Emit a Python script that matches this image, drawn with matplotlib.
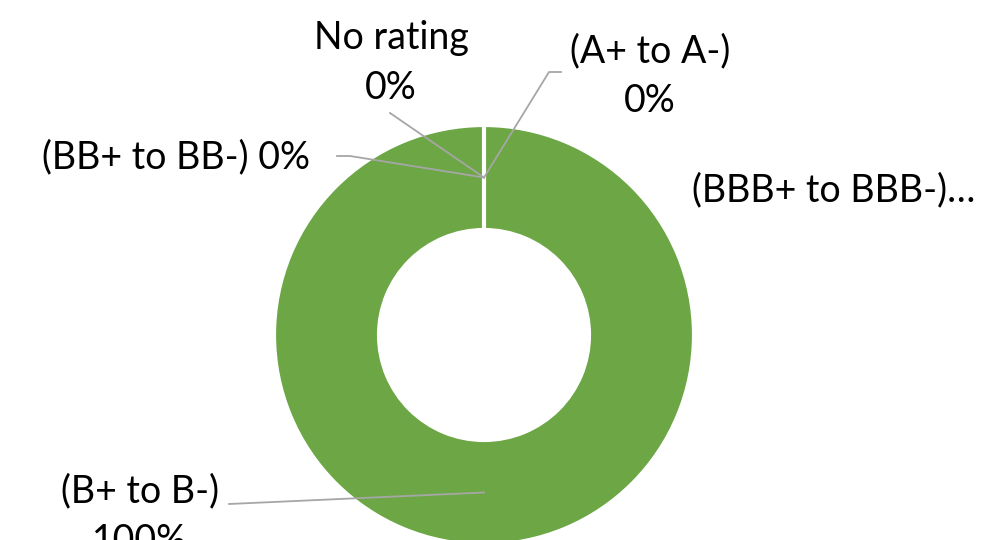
import numpy as np
import matplotlib.pyplot as plt

plt.rcParams['font.family'] = ['Lato', 'DejaVu Sans']

# data, clockwise from the top as in the source chart
categories = ["(A+ to A-)", "(BBB+ to BBB-)", "(BB+ to BB-)", "(B+ to B-)", "No rating"]
values = [0, 0, 0, 100, 0]
shown_labels = ["(A+ to A-)\n0%", "(BBB+ to BBB-)…", "(BB+ to BB-) 0%", "(B+ to B-)\n100%", "No rating\n0%"]

W, H = 998, 540
fig = plt.figure(figsize=(W / 100, H / 100), dpi=100)
ax = fig.add_axes([0, 0, 1, 1])

cx, cy, r = 484, H - 335, 210
ring = 0.5

wedges, _ = ax.pie(values, colors=["#6CA645"] * len(values), startangle=90, counterclock=False,
                   radius=r, center=(cx, cy),
                   wedgeprops=dict(width=r * ring, edgecolor="white", linewidth=3))
ax.set_xlim(0, W)
ax.set_ylim(0, H)
ax.set_aspect("equal")
ax.axis("off")


def anchor(w):
    # middle of the ring at the middle angle of the wedge
    ang = np.deg2rad((w.theta1 + w.theta2) / 2)
    rr = r * (1 - ring / 2)
    return cx + rr * np.cos(ang), cy + rr * np.sin(ang)


line_kw = dict(color="#A6A6A6", lw=1.3)
fs = 27

# label placements: text position, alignment, leader path start (None = no leader)
place = {
    "(A+ to A-)": dict(xy=(650, H - 76), ha="center", path=[(561, H - 72), (549, H - 72)]),
    "(BBB+ to BBB-)": dict(xy=(692, H - 190), ha="left", path=None),
    "(BB+ to BB-)": dict(xy=(176, H - 157), ha="center", path=[(337, H - 156), (350, H - 156)]),
    "(B+ to B-)": dict(xy=(140, H - 516), ha="center", path=[(229, H - 504)]),
    "No rating": dict(xy=(391, H - 63), ha="center", path=[(390, H - 113)]),
}

for w, cat, lab in zip(wedges, categories, shown_labels):
    p = place[cat]
    ax.text(p["xy"][0], p["xy"][1], lab, ha=p["ha"], va="center", fontsize=fs,
            linespacing=1.45, color="black")
    if p["path"] is not None:
        pts = p["path"] + [anchor(w)]
        xs, ys = zip(*pts)
        ax.plot(xs, ys, **line_kw)

fig.savefig("out.png", dpi=100)
